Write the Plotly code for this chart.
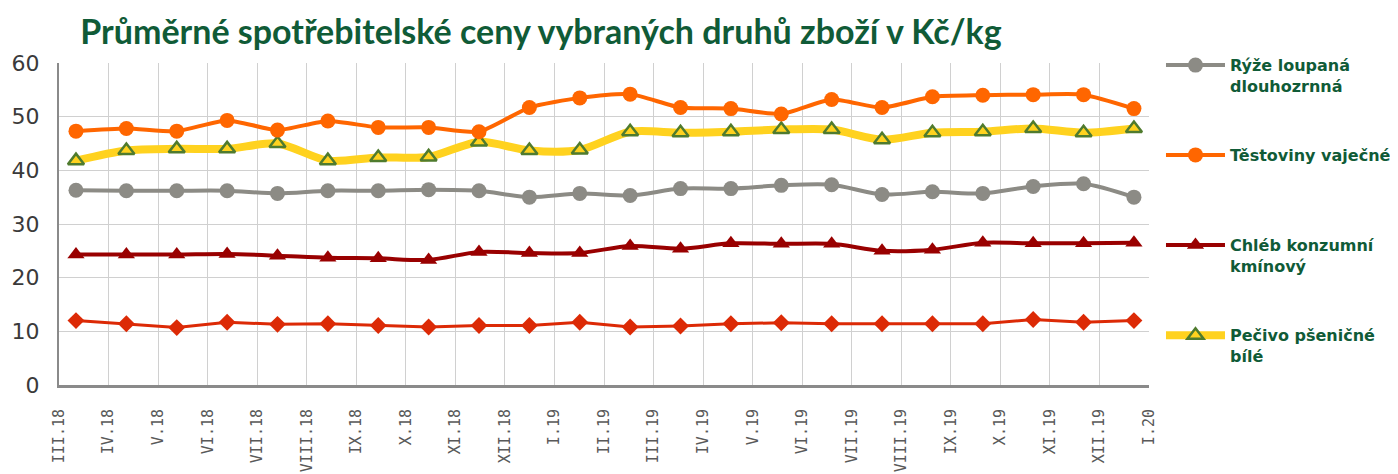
import plotly.graph_objects as go

# ---- data ----
tick_labels = ["III.18", "IV.18", "V.18", "VI.18", "VII.18", "VIII.18", "IX.18", "X.18",
               "XI.18", "XII.18", "I.19", "II.19", "III.19", "IV.19", "V.19", "VI.19",
               "VII.19", "VIII.19", "IX.19", "X.19", "XI.19", "XII.19", "I.20"]
months = tick_labels[:22]

ryze = [36.3, 36.2, 36.2, 36.2, 35.7, 36.2, 36.2, 36.4, 36.2, 35.0, 35.7,
        35.3, 36.6, 36.6, 37.2, 37.3, 35.5, 36.0, 35.7, 37.0, 37.5, 35.0]
testoviny = [47.3, 47.8, 47.3, 49.3, 47.5, 49.2, 48.0, 48.0, 47.2, 51.7, 53.5,
             54.2, 51.7, 51.5, 50.5, 53.2, 51.7, 53.7, 54.0, 54.1, 54.1, 51.5]
chleb = [24.3, 24.3, 24.3, 24.4, 24.1, 23.7, 23.6, 23.3, 24.8, 24.6, 24.6,
         25.9, 25.4, 26.4, 26.3, 26.3, 25.0, 25.2, 26.5, 26.4, 26.4, 26.5]
pecivo = [41.8, 43.7, 44.0, 44.0, 45.0, 41.8, 42.4, 42.5, 45.3, 43.7, 43.8,
          47.2, 47.0, 47.2, 47.6, 47.6, 45.7, 47.0, 47.2, 47.8, 47.0, 47.8]
mouka = [12.0, 11.4, 10.7, 11.7, 11.3, 11.4, 11.1, 10.8, 11.1, 11.1, 11.7,
         10.8, 11.0, 11.4, 11.6, 11.4, 11.4, 11.4, 11.4, 12.2, 11.7, 12.0]

names = ["Rýže loupaná<br>dlouhozrnná", "Těstoviny vaječné",
         "Chléb konzumní<br>kmínový", "Pečivo pšeničné<br>bílé"]

GREEN = "#105b37"

fig = go.Figure()

# carrier for the labelled month axis (boundaries between months)
fig.add_trace(go.Scatter(
    x=list(range(len(tick_labels))), y=[None] * len(tick_labels), mode="markers",
    showlegend=False, hoverinfo="skip", marker=dict(opacity=0)))

# diamond series (not in legend)
fig.add_trace(go.Scatter(
    x=months, y=mouka, xaxis="x2", mode="lines+markers", showlegend=False,
    line=dict(color="#dc2a06", width=3),
    marker=dict(symbol="diamond", size=13, color="#dc2a06")))

fig.add_trace(go.Scatter(
    x=months, y=chleb, xaxis="x2", mode="lines+markers", name=names[2], legend="legend3",
    line=dict(color="#990000", width=4, shape="spline", smoothing=0.8),
    marker=dict(symbol="triangle-up", size=15, color="#990000")))

fig.add_trace(go.Scatter(
    x=months, y=ryze, xaxis="x2", mode="lines+markers", name=names[0], legend="legend",
    line=dict(color="#8c8b85", width=4, shape="spline", smoothing=0.8),
    marker=dict(symbol="circle", size=15, color="#8c8b85")))

fig.add_trace(go.Scatter(
    x=months, y=pecivo, xaxis="x2", mode="lines+markers", name=names[3], legend="legend4",
    line=dict(color="#ffd21f", width=8, shape="spline", smoothing=0.8),
    marker=dict(symbol="triangle-up", size=14, color="#ffd21f",
                line=dict(color="#4f7b2e", width=2.5))))

fig.add_trace(go.Scatter(
    x=months, y=testoviny, xaxis="x2", mode="lines+markers", name=names[1], legend="legend2",
    line=dict(color="#ff6600", width=4, shape="spline", smoothing=0.6),
    marker=dict(symbol="circle", size=15, color="#ff6600")))

legend_common = dict(
    font=dict(family="DejaVu Sans", size=16, color=GREEN, weight="bold"),
    bgcolor="rgba(0,0,0,0)", xanchor="left", yanchor="top", valign="top",
    x=1.011, itemwidth=59, tracegroupgap=0,
)

fig.update_layout(
    width=1398, height=474,
    paper_bgcolor="white", plot_bgcolor="white",
    margin=dict(l=51, r=257, t=55, b=97, autoexpand=False),
    title=dict(
        text="<b>Průměrné spotřebitelské ceny vybraných druhů zboží v Kč/kg</b>",
        font=dict(family="Lato", size=34, color=GREEN),
        x=533 / 1398, xanchor="center", xref="container",
        y=1 - 24 / 474, yanchor="middle", yref="container"),
    xaxis=dict(
        range=[0, 22], tickmode="array", tickvals=list(range(23)), ticktext=tick_labels,
        tickangle=-90, showgrid=True, gridcolor="#d0d0d0", gridwidth=1,
        showline=True, linecolor="#8a8a8a", linewidth=3, zeroline=False,
        ticks="", ticklabelstandoff=15,
        tickfont=dict(family="DejaVu Sans Mono", size=15, color="#595959")),
    xaxis2=dict(
        type="category", categoryorder="array", categoryarray=months,
        overlaying="x", range=[-0.337, 21.299], visible=False),
    yaxis=dict(
        range=[0, 60], tickmode="array", tickvals=[0, 10, 20, 30, 40, 50, 60],
        showgrid=True, gridcolor="#d0d0d0", gridwidth=1,
        showline=True, linecolor="#8a8a8a", linewidth=2, zeroline=False,
        ticks="", ticklabelstandoff=13,
        tickfont=dict(family="DejaVu Sans", size=22, color="#3a3a3a")),
    legend=dict(y=1.046, **legend_common),
    legend2=dict(y=0.767, **legend_common),
    legend3=dict(y=0.487, **legend_common),
    legend4=dict(y=0.207, **legend_common),
)

fig.write_html("out.html")
